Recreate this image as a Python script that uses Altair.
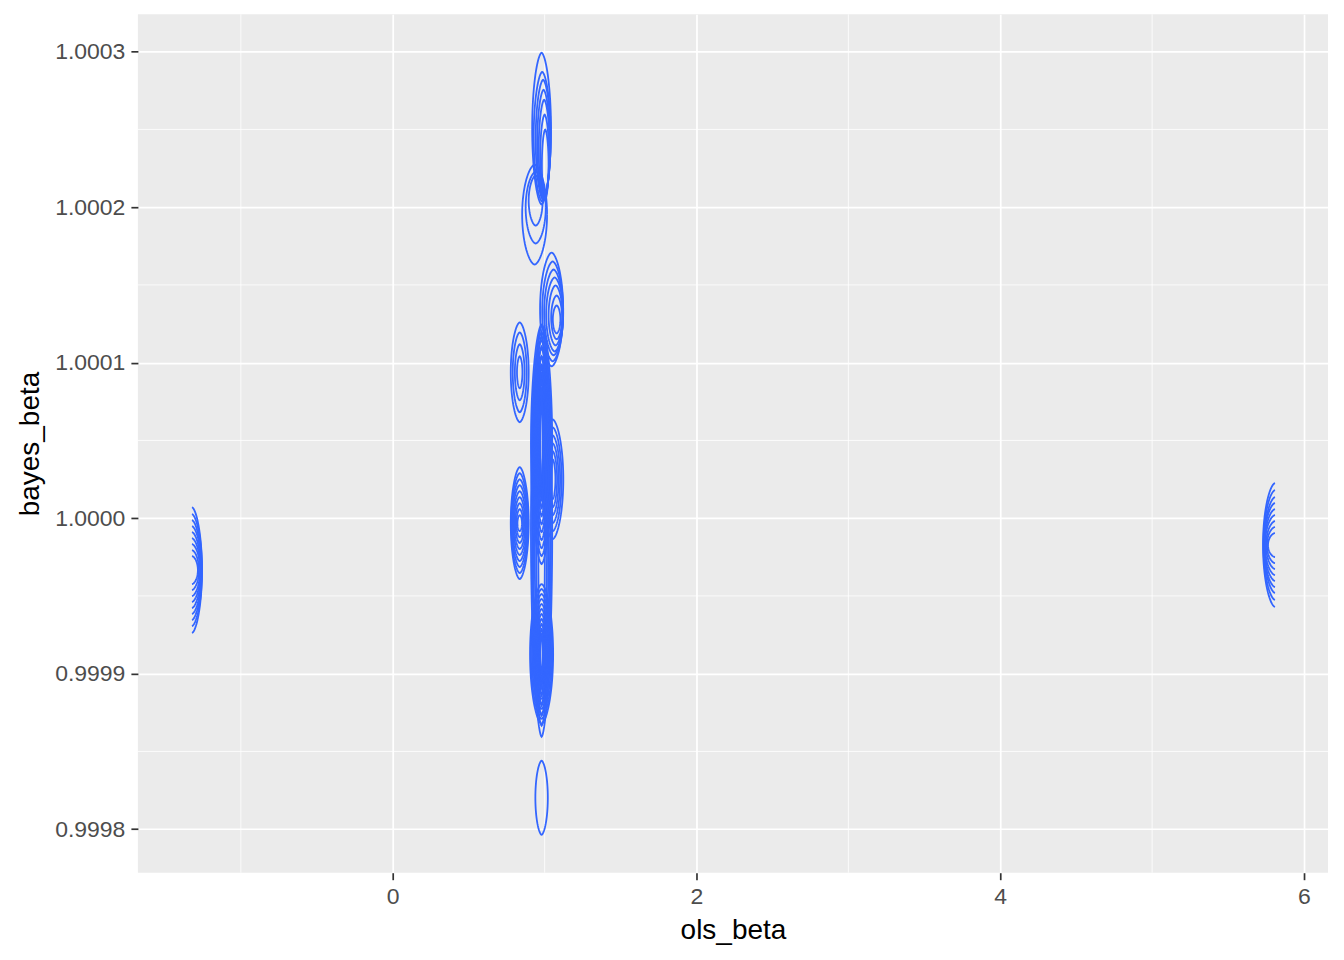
import numpy as np
import pandas as pd
import altair as alt

# ---- contour rings ----
# each ring: (centre x, centre y, half-width in x units, half-height in units of 1e-5 of y)
blob_A = [(0.980, 1.0002505, 0.062, 4.88), (0.984, 1.0002453, 0.056, 4.17), (0.990, 1.0002434, 0.049, 3.85),
          (0.993, 1.0002402, 0.042, 3.53), (0.997, 1.0002370, 0.036, 3.21), (1.000, 1.0002325, 0.029, 2.70),
          (1.004, 1.0002274, 0.022, 2.25)]
blob_B = [(0.934, 1.0001952, 0.082, 3.21), (0.941, 1.0001997, 0.066, 2.31), (0.941, 1.0002042, 0.046, 1.61)]
blob_C = [(1.046, 1.0001342, 0.076, 3.66), (1.053, 1.0001330, 0.069, 3.21), (1.059, 1.0001323, 0.062, 2.76),
          (1.066, 1.0001310, 0.056, 2.38), (1.072, 1.0001304, 0.046, 1.93), (1.079, 1.0001291, 0.036, 1.41),
          (1.079, 1.0001278, 0.025, 0.90)]
blob_F0 = [(0.980, 0.9999917, w, h) for w, h in
           [(0.070, 13.23), (0.062, 12.52), (0.056, 11.88), (0.046, 11.24), (0.036, 10.59), (0.022, 9.95)]]
blob_F1 = [(0.980, 1.0000475, w, h) for w, h in
           [(0.070, 7.70), (0.063, 7.19), (0.056, 6.68), (0.049, 6.16), (0.042, 5.65), (0.036, 5.14),
            (0.029, 4.62), (0.022, 4.11), (0.015, 3.60), (0.008, 3.08)]]
blob_F2 = [(1.053, 1.0000250, w, h) for w, h in
           [(0.070, 3.85), (0.059, 3.34), (0.049, 2.82), (0.039, 2.31), (0.029, 1.80), (0.018, 1.28)]]
blob_F3 = [(0.980, 0.9999127, w, h) for w, h in
           [(0.076, 4.49), (0.070, 4.17), (0.063, 3.85), (0.056, 3.53), (0.049, 3.21), (0.042, 2.89),
            (0.036, 2.57), (0.029, 2.25), (0.022, 1.93), (0.015, 1.61), (0.008, 1.28)]]
blob_D = [(0.836, 1.0000938, w, h) for w, h in [(0.059, 3.21), (0.046, 2.57), (0.032, 1.80), (0.018, 1.03)]]
blob_E = [(0.836, 0.9999968, w, h) for w, h in
          [(0.059, 3.60), (0.056, 3.21), (0.052, 2.82), (0.048, 2.44), (0.042, 2.05), (0.036, 1.67),
           (0.029, 1.28), (0.022, 0.90), (0.015, 0.51)]]
blob_G = [(0.980, 0.9998202, 0.041, 2.38)]
# blobs at the edges of the density grid: only one side of each ring is drawn
blob_L = [(-1.322, 0.9999666, w, h) for w, h in
          [(0.066, 4.04), (0.066, 3.60), (0.063, 3.21), (0.063, 2.82), (0.059, 2.44), (0.056, 2.05),
           (0.053, 1.67), (0.046, 1.28), (0.039, 0.90)]]
blob_R = [(5.809, 0.9999827, w, h) for w, h in
          [(0.079, 3.98), (0.076, 3.53), (0.072, 3.08), (0.072, 2.70), (0.069, 2.31), (0.066, 1.93),
           (0.059, 1.54), (0.053, 1.16), (0.046, 0.77)]]

blobs = [("A", blob_A, "full"), ("B", blob_B, "full"), ("C", blob_C, "full"), ("F0", blob_F0, "full"),
         ("F1", blob_F1, "full"), ("F2", blob_F2, "full"), ("F3", blob_F3, "full"), ("D", blob_D, "full"),
         ("E", blob_E, "full"), ("G", blob_G, "full"), ("L", blob_L, "right"), ("R", blob_R, "left")]

x_ticks = [0, 2, 4, 6]
x_minor = [-1, 1, 3, 5]
y_ticks = [0.9998, 0.9999, 1.0000, 1.0001, 1.0002, 1.0003]
y_minor = [0.99985, 0.99995, 1.00005, 1.00015, 1.00025]
x_domain = [-1.678, 6.158]
y_domain = [0.999772, 1.000324]

rows = []
for name, rings, side in blobs:
    for j, (cx, cy, hw, hh) in enumerate(rings):
        if side == "right":
            t = np.linspace(-np.pi / 2, np.pi / 2, 41)
        elif side == "left":
            t = np.linspace(np.pi / 2, 3 * np.pi / 2, 41)
        else:
            t = np.linspace(0, 2 * np.pi, 81)
        c = np.cos(t)
        px = np.sign(c) * np.abs(c) ** 1.2
        for k in range(len(t)):
            rows.append({
                "x": cx + hw * px[k],
                "y": cy + hh * 1e-5 * np.sin(t[k]),
                "ring": f"{name}_{j}",
                "ord": k,
            })
df = pd.DataFrame(rows)

FONT = "Liberation Sans"

def make_axis(vals, fmt, title, tpad):
    return alt.Axis(values=vals, format=fmt, title=title, grid=True, gridColor="white",
                    gridWidth=1.7, domain=False, tickColor="#333333", tickWidth=1.7, tickSize=7,
                    labelPadding=6, labelFontSize=23, labelColor="#4D4D4D", labelFont=FONT,
                    titleFont=FONT, titleFontSize=28, titleFontWeight="normal", titleColor="black",
                    titlePadding=tpad)

xaxis = make_axis(x_ticks, "d", "ols_beta", 8)
yaxis = make_axis(y_ticks, ".4f", "bayes_beta", 10)

xs = alt.Scale(domain=x_domain, nice=False, zero=False)
ys = alt.Scale(domain=y_domain, nice=False, zero=False)

minor_x = alt.Chart(pd.DataFrame({"x": x_minor})).mark_rule(color="white", strokeWidth=0.8).encode(
    x=alt.X("x:Q", scale=xs, axis=xaxis))
minor_y = alt.Chart(pd.DataFrame({"y": y_minor})).mark_rule(color="white", strokeWidth=0.8).encode(
    y=alt.Y("y:Q", scale=ys, axis=yaxis))

contours = alt.Chart(df).mark_line(color="#3366FF", strokeWidth=1.8, clip=True).encode(
    x=alt.X("x:Q", scale=xs, axis=xaxis),
    y=alt.Y("y:Q", scale=ys, axis=yaxis),
    detail="ring:N",
    order="ord:Q",
)

chart = alt.layer(minor_x, minor_y, contours).properties(
    width=1191, height=859,
    autosize=alt.AutoSizeParams(type="none"),
    padding={"left": 130, "top": 6, "right": 8, "bottom": 80},
).configure_view(fill="#EBEBEB", stroke=None)

chart.save("out.html", embed_options={"renderer": "svg", "actions": False})
